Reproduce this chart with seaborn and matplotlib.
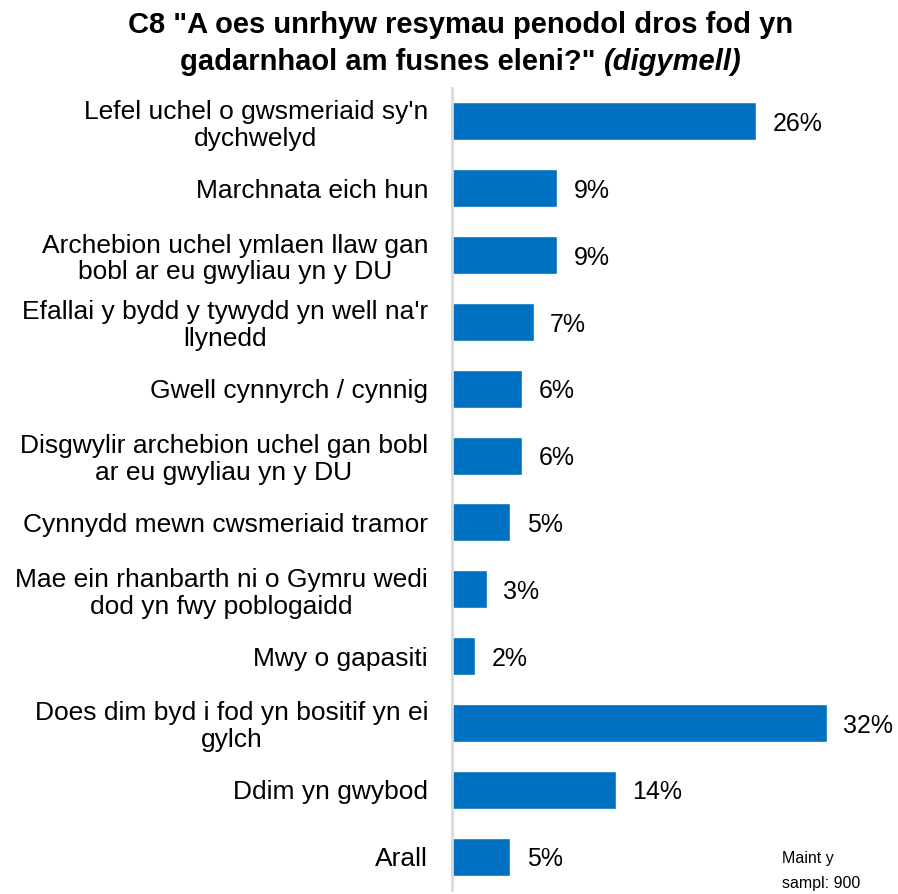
import numpy as np
import matplotlib
matplotlib.use("Agg")
import matplotlib.pyplot as plt
import seaborn as sns
import pandas as pd

categories = [
    "Lefel uchel o gwsmeriaid sy'n\ndychwelyd",
    "Marchnata eich hun",
    "Archebion uchel ymlaen llaw gan\nbobl ar eu gwyliau yn y DU",
    "Efallai y bydd y tywydd yn well na'r\nllynedd",
    "Gwell cynnyrch / cynnig",
    "Disgwylir archebion uchel gan bobl\nar eu gwyliau yn y DU",
    "Cynnydd mewn cwsmeriaid tramor",
    "Mae ein rhanbarth ni o Gymru wedi\ndod yn fwy poblogaidd",
    "Mwy o gapasiti",
    "Does dim byd i fod yn bositif yn ei\ngylch",
    "Ddim yn gwybod",
    "Arall",
]
values = [26, 9, 9, 7, 6, 6, 5, 3, 2, 32, 14, 5]

sns.set_theme(style="white")
plt.rcParams["font.family"] = ["Liberation Sans", "DejaVu Sans"]
plt.rcParams["text.color"] = "black"
plt.rcParams["ytick.color"] = "black"

df = pd.DataFrame({"cat": categories, "val": values})

fig = plt.figure(figsize=(8.98, 8.94), dpi=100)
ax = fig.add_axes([0.503, 0.0045, 0.497, 0.8971])

sns.barplot(data=df, x="val", y="cat", orient="h", color="#0070C0",
            saturation=1, width=0.57, ax=ax)

ax.set_xlim(0, 38.1)
ax.set_ylim(11.5, -0.5)
ax.set_xlabel("")
ax.set_ylabel("")
ax.set_xticks([])
for s in ["top", "right", "bottom"]:
    ax.spines[s].set_visible(False)
ax.spines["left"].set_color("#d9d9d9")
ax.spines["left"].set_linewidth(2)
ax.tick_params(axis="y", length=0, pad=17, labelsize=19, labelcolor="black")
for lbl in ax.get_yticklabels():
    lbl.set_horizontalalignment("right")
    lbl.set_multialignment("center")
    lbl.set_linespacing(1.15)

for i, v in enumerate(values):
    ax.text(v + 1.4, i + 0.04, f"{v}%", va="center", ha="left", fontsize=18,
            color="black")

# title, second line partly italic and centred as a whole
fig.text(0.513, 0.988,
         'C8 "A oes unrhyw resymau penodol dros fod yn',
         ha="center", va="top", fontsize=21, fontweight="bold")
t1 = fig.text(0, 0.946, 'gadarnhaol am fusnes eleni?" ',
              ha="left", va="top", fontsize=21, fontweight="bold")
t2 = fig.text(0, 0.946, "(digymell)", ha="left", va="top", fontsize=21,
              fontweight="bold", fontstyle="italic")
r = fig.canvas.get_renderer()
w1 = t1.get_window_extent(r).width / fig.bbox.width
w2 = t2.get_window_extent(r).width / fig.bbox.width
x0 = 0.513 - (w1 + w2) / 2
t1.set_x(x0)
t2.set_x(x0 + w1)

fig.text(0.871, 0.026, "Maint y\nsampl: 900", ha="left", va="center",
         fontsize=11.5, linespacing=1.85)

fig.savefig("out.png", dpi=100)
